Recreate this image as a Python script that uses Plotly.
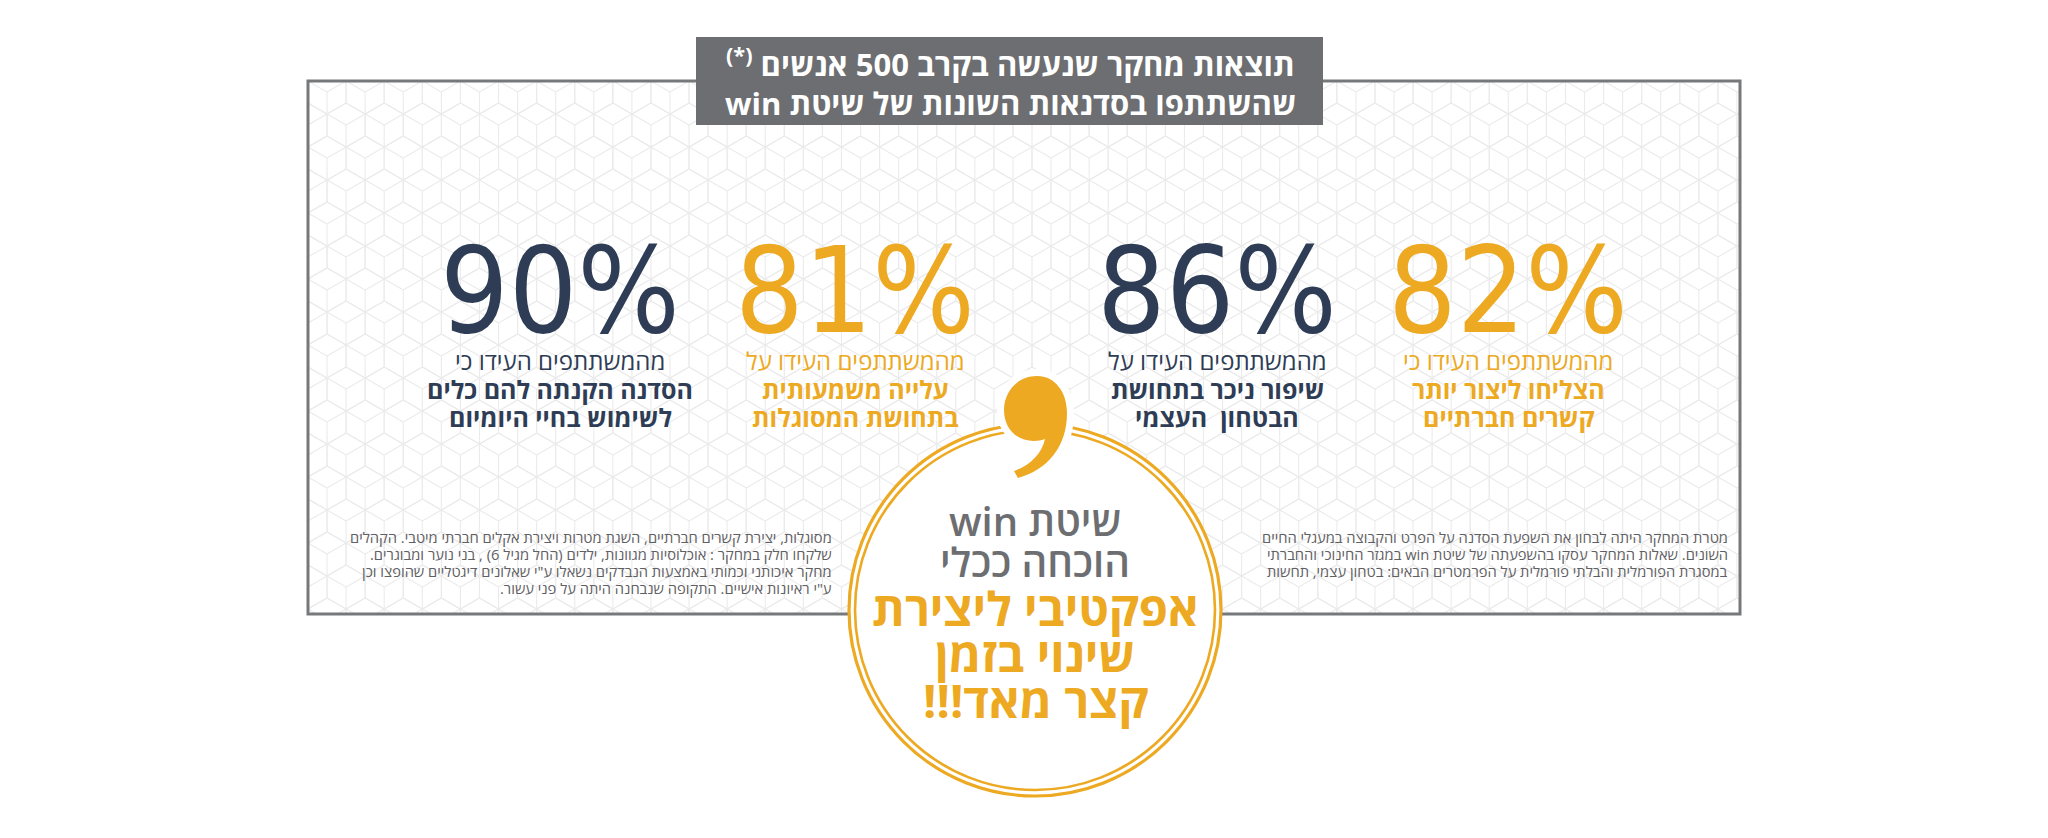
import numpy as np
import plotly.graph_objects as go

W, H = 2048, 838
NAVY = "#2e3d55"
YELLOW = "#eca921"
GRAY = "#6d6e71"
PARA_GRAY = "#5f6063"
FRAME_GRAY = "#77787a"
HEX_GRAY = "#ebebec"

HEB = "Open Sans, Liberation Sans, DejaVu Sans, Arial, sans-serif"
NUMFONT = "Liberation Sans Narrow, DejaVu Sans Condensed, Liberation Sans, sans-serif"

# ---------------- data ----------------
percent_values = [90, 81, 86, 82]
column_colors = [NAVY, YELLOW, NAVY, YELLOW]
column_lead = ["מהמשתתפים העידו כי", "מהמשתתפים העידו על",
               "מהמשתתפים העידו על", "מהמשתתפים העידו כי"]
column_line2 = ["הסדנה הקנתה להם כלים", "עלייה משמעותית",
                "שיפור ניכר בתחושת", "הצליחו ליצור יותר"]
column_line3 = ["לשימוש בחיי היומיום", "בתחושת המסוגלות",
                "הבטחון  העצמי", "קשרים חברתיים"]

# logical order arranged for left-to-right base direction (renders as RTL Hebrew)
title_line1 = "תוצאות מחקר שנעשה בקרב 500 אנשים"
title_mark = "(*)"
title_line2 = "win שהשתתפו בסדנאות השונות של שיטת"

circle_gray_lines = ["win שיטת", "הוכחה ככלי"]
circle_yellow_lines = ["אפקטיבי ליצירת", "שינוי בזמן", "!!!קצר מאד"]

left_paragraph = [
    "מסוגלות, יצירת קשרים חברתיים, השגת מטרות ויצירת אקלים חברתי מיטבי. הקהלים",
    ".שלקחו חלק במחקר : אוכלוסיות מגוונות, ילדים (החל מגיל 6) , בני נוער ומבוגרים",
    "מחקר איכותני וכמותי באמצעות הנבדקים נשאלו ע\"י שאלונים דיגטליים שהופצו וכן",
    ".ע\"י ראיונות אישיים. התקופה שנבחנה היתה על פני עשור",
]
right_paragraph = [
    "מטרת המחקר היתה לבחון את השפעת הסדנה על הפרט והקבוצה במעגלי החיים",
    "במגזר החינוכי והחברתי win השונים. שאלות המחקר עסקו בהשפעתה של שיטת",
    "במסגרת הפורמלית והבלתי פורמלית על הפרמטרים הבאים: בטחון עצמי, תחשות",
]

# ---------------- layout geometry ----------------
FX0, FX1, FY0, FY1 = 308, 1740, 81, 614
column_x = [560, 855, 1217, 1508]
NUM_Y = 290
LINE_Y = [360, 389, 417]
CX, CY, R_OUT, R_IN = 1035, 610, 186, 180

fig = go.Figure()

# cube-style hexagon background pattern, clipped to the frame by its own subplot
hx, hy = [], []
R = 22.0
wdt = np.sqrt(3) * R
angles = np.deg2rad([-90, -30, 30, 90, 150, 210, 270])
row = 0
yy = FY0 - R
while yy < FY1 + R:
    off = (row % 2) * wdt / 2
    xx = FX0 - wdt + off
    while xx < FX1 + wdt:
        px = xx + R * np.cos(angles)
        py = yy + R * np.sin(angles)
        hx.extend(list(px) + [None])
        hy.extend(list(py) + [None])
        for a in (90, 210, 330):
            t = np.deg2rad(a)
            hx.extend([xx, xx + R * np.cos(t), None])
            hy.extend([yy, yy + R * np.sin(t), None])
        xx += wdt
    yy += 1.5 * R
    row += 1
fig.add_trace(go.Scatter(x=hx, y=hy, mode="lines", xaxis="x2", yaxis="y2",
                         line=dict(color=HEX_GRAY, width=1.1), hoverinfo="skip",
                         showlegend=False))

shapes = []
shapes.append(dict(type="rect", xref="x", yref="y", x0=FX0, x1=FX1, y0=FY0, y1=FY1,
                   line=dict(color=FRAME_GRAY, width=3), fillcolor="rgba(0,0,0,0)",
                   layer="above"))
shapes.append(dict(type="circle", xref="x", yref="y", x0=CX - R_OUT, x1=CX + R_OUT,
                   y0=CY - R_OUT, y1=CY + R_OUT, fillcolor="white",
                   line=dict(color=YELLOW, width=3.2), layer="above"))
shapes.append(dict(type="circle", xref="x", yref="y", x0=CX - R_IN, x1=CX + R_IN,
                   y0=CY - R_IN, y1=CY + R_IN, fillcolor="rgba(0,0,0,0)",
                   line=dict(color=YELLOW, width=2.6), layer="above"))
comma = ("M 1037,376 C 1018,376 1004,391 1004,410 C 1004,428 1016,441 1034,441 "
         "C 1038,441 1042,440 1045,439 C 1042,453 1031,465 1014,471 L 1018,478 "
         "C 1047,470 1067,447 1067,413 C 1067,392 1055,376 1037,376 Z")
shapes.append(dict(type="path", xref="x", yref="y", path=comma, fillcolor="white",
                   line=dict(color="white", width=14), layer="above"))
shapes.append(dict(type="path", xref="x", yref="y", path=comma, fillcolor=YELLOW,
                   line=dict(width=0), layer="above"))
shapes.append(dict(type="rect", xref="x", yref="y", x0=696, x1=1323, y0=37, y1=125,
                   fillcolor=GRAY, line=dict(width=0), layer="above"))

ann = []


def txt(x, y, s, size, color, weight="normal", xanchor="center", family=HEB):
    ann.append(dict(x=x, y=y, xref="x", yref="y", text=s, showarrow=False,
                    xanchor=xanchor, yanchor="middle",
                    font=dict(family=family, size=size, color=color, weight=weight)))


# title
txt(1010, 62, "<sup>" + title_mark + "</sup> " + title_line1, 31, "white", "bold")
txt(1010, 103, title_line2, 31, "white", "bold")

# columns
for i, v in enumerate(percent_values):
    c = column_colors[i]
    txt(column_x[i], NUM_Y, f"{v}%", 120, c, "normal", family=NUMFONT)
    txt(column_x[i], LINE_Y[0], column_lead[i], 24, c, "normal")
    txt(column_x[i], LINE_Y[1], column_line2[i], 25, c, "bold")
    txt(column_x[i], LINE_Y[2], column_line3[i], 25, c, "bold")

# circle text
for k, s in enumerate(circle_gray_lines):
    txt(CX, 520 + 41 * k, s, 40, GRAY, 600)
for k, s in enumerate(circle_yellow_lines):
    txt(CX, 608 + 46 * k, s, 47, YELLOW, "bold")

# paragraphs
for k, s in enumerate(left_paragraph):
    txt(834, 537 + 17 * k, s, 14.7, PARA_GRAY, "normal", xanchor="right")
for k, s in enumerate(right_paragraph):
    txt(1730, 537 + 17 * k, s, 14.7, PARA_GRAY, "normal", xanchor="right")

fig.update_layout(
    width=W, height=H, autosize=False,
    margin=dict(l=0, r=0, t=0, b=0, pad=0),
    paper_bgcolor="white", plot_bgcolor="rgba(0,0,0,0)",
    showlegend=False,
    xaxis=dict(range=[0, W], domain=[0, 1], visible=False, fixedrange=True),
    yaxis=dict(range=[H, 0], domain=[0, 1], visible=False, fixedrange=True),
    xaxis2=dict(range=[FX0, FX1], domain=[FX0 / W, FX1 / W], visible=False,
                fixedrange=True, anchor="y2"),
    yaxis2=dict(range=[FY1, FY0], domain=[1 - FY1 / H, 1 - FY0 / H], visible=False,
                fixedrange=True, anchor="x2"),
    shapes=shapes,
    annotations=ann,
)

fig.write_html("out.html", config={"displayModeBar": False, "responsive": False},
               post_script="document.body.style.margin='0px';"
                           "document.body.style.overflow='hidden';")
